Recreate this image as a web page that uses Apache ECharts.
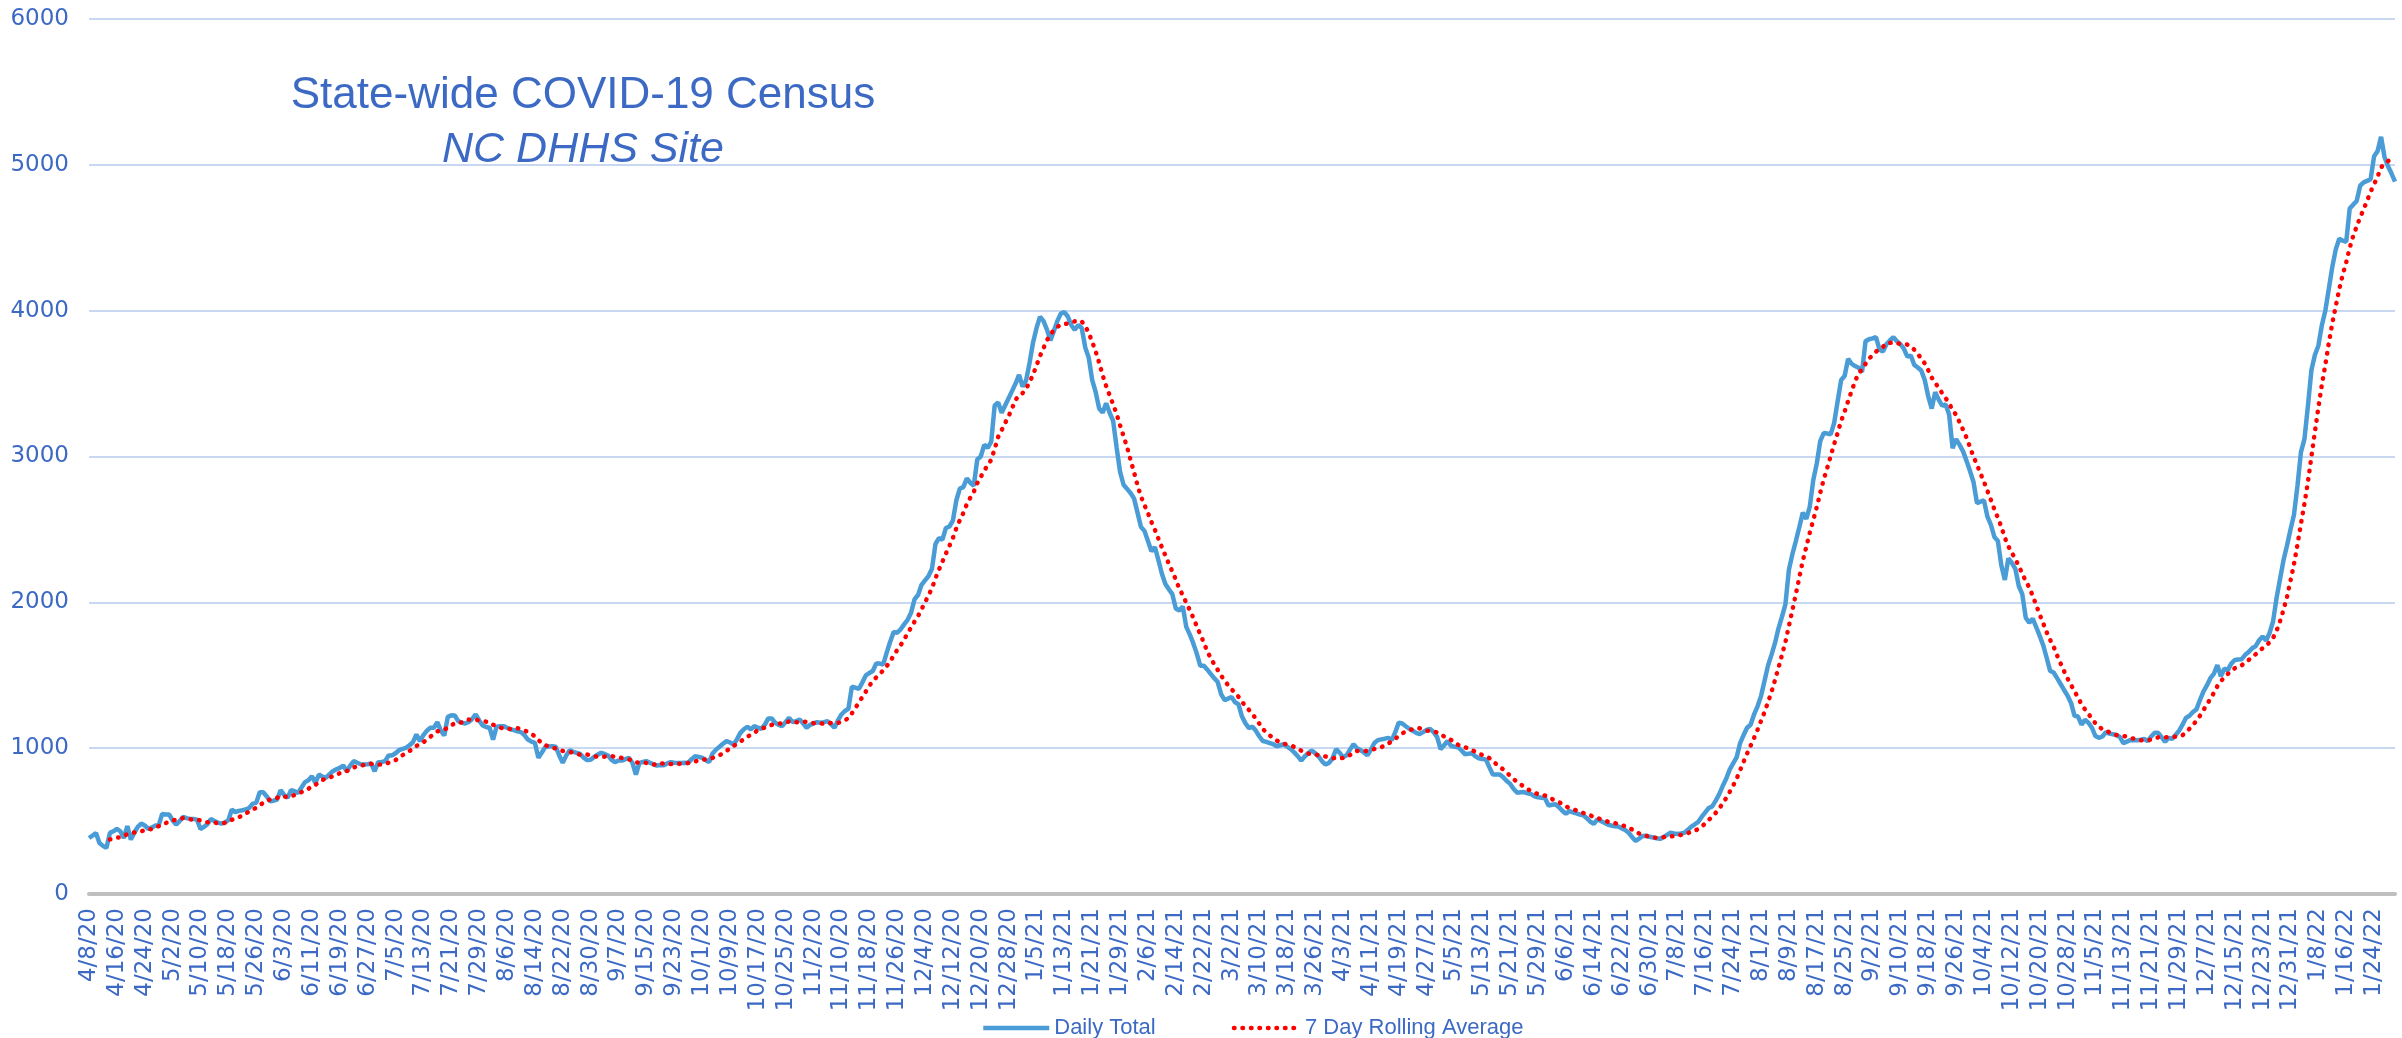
<!DOCTYPE html>
<html>
<head>
<meta charset="utf-8">
<title>State-wide COVID-19 Census</title>
<script src="https://cdn.jsdelivr.net/npm/echarts@6/dist/echarts.min.js"></script>
<style>
  html, body { margin: 0; padding: 0; background: #fff; }
  #chart { width: 2402px; height: 1038px; }
</style>
</head>
<body>
<div id="chart"></div>
<script>
// daily hospital census, 4/8/20 .. 12/31/20
const totals2020 = [
  384, 400, 419, 350, 330, 316, 419, 430,
  446, 430, 384, 465, 373, 420, 460, 483,
  470, 446, 455, 469, 470, 549, 545, 545,
  505, 476, 500, 529, 520, 515, 515, 510,
  446, 460, 480, 515, 500, 490, 483, 490,
  506, 579, 561, 570, 574, 580, 590, 620,
  625, 698, 698, 670, 636, 640, 648, 712,
  680, 659, 712, 705, 693, 730, 767, 780,
  808, 762, 819, 805, 796, 820, 842, 855,
  865, 881, 842, 880, 911, 900, 890, 888,
  890, 895, 842, 904, 905, 911, 950, 950,
  965, 986, 995, 1002, 1020, 1041, 1094, 1048,
  1090, 1120, 1140, 1140, 1178, 1120, 1087, 1215,
  1225, 1224, 1185, 1175, 1169, 1180, 1200, 1231,
  1190, 1156, 1145, 1140, 1059, 1147, 1150, 1151,
  1140, 1130, 1124, 1115, 1110, 1090, 1059, 1045,
  1037, 934, 970, 1009, 1012, 1014, 1010, 950,
  899, 950, 986, 975, 968, 960, 935, 918,
  920, 940, 955, 968, 960, 950, 920, 904,
  915, 915, 925, 934, 900, 819, 899, 905,
  911, 900, 890, 881, 885, 883, 895, 904,
  900, 898, 899, 900, 899, 925, 945, 940,
  934, 920, 904, 963, 990, 1010, 1030, 1048,
  1040, 1025, 1060, 1105, 1130, 1147, 1129, 1151,
  1140, 1133, 1160, 1204, 1204, 1174, 1160, 1151,
  1180, 1208, 1178, 1185, 1197, 1170, 1140, 1160,
  1170, 1178, 1175, 1178, 1185, 1165, 1140, 1190,
  1231, 1255, 1270, 1421, 1415, 1407, 1450, 1499,
  1515, 1529, 1581, 1580, 1574, 1655, 1730, 1796,
  1792, 1815, 1849, 1880, 1929, 2021, 2050, 2120,
  2150, 2180, 2230, 2400, 2440, 2430, 2510, 2520,
  2560, 2700, 2780, 2790, 2850, 2820, 2800, 2980,
  3000, 3080, 3060, 3100, 3350, 3370, 3300, 3350,
  3400, 3450, 3500, 3560
]
// 1/1/21 .. 12/31/21
const totals2021 = [
  3480, 3520, 3640, 3780,
  3880, 3958, 3930, 3870, 3796, 3860, 3930, 3980,
  3990, 3960, 3900, 3869, 3902, 3880, 3748, 3678,
  3524, 3441, 3329, 3301, 3365, 3300, 3245, 3063,
  2895, 2806, 2778, 2750, 2713, 2615, 2517, 2490,
  2420, 2350, 2378, 2290, 2196, 2126, 2090, 2056,
  1958, 1944, 1972, 1832, 1780, 1720, 1650, 1566,
  1566, 1540, 1510, 1480, 1455, 1371, 1329, 1340,
  1351, 1315, 1301, 1217, 1170, 1138, 1147, 1119,
  1080, 1049, 1043, 1035, 1027, 1013, 1020, 1027,
  1010, 993, 971, 945, 915, 943, 965, 985,
  965, 943, 910, 887, 900, 930, 993, 970,
  937, 951, 990, 1027, 1000, 987, 970, 951,
  990, 1035, 1055, 1060, 1065, 1071, 1055, 1110,
  1175, 1169, 1150, 1133, 1120, 1105, 1097, 1110,
  1125, 1133, 1110, 1077, 993, 1020, 1049, 1015,
  1010, 1007, 985, 959, 962, 965, 945, 931,
  925, 923, 870, 820, 820, 820, 800, 775,
  755, 720, 694, 697, 699, 690, 685, 670,
  663, 660, 657, 607, 612, 615, 595, 570,
  551, 568, 560, 553, 545, 540, 520, 495,
  481, 512, 500, 488, 476, 470, 465, 463,
  450, 439, 420, 390, 364, 380, 398, 400,
  392, 388, 382, 378, 390, 405, 420, 415,
  411, 415, 420, 440, 462, 478, 495, 530,
  560, 590, 601, 640, 685, 740, 790, 853,
  895, 937, 1035, 1090, 1140, 1161, 1231, 1287,
  1357, 1460, 1566, 1640, 1720, 1820, 1900, 1986,
  2224, 2330, 2420, 2517, 2615, 2573, 2657, 2839,
  2951, 3105, 3161, 3158, 3152, 3230, 3380, 3524,
  3552, 3669, 3636, 3620, 3608, 3580, 3790, 3804,
  3810, 3818, 3734, 3720, 3770, 3796, 3818, 3790,
  3770, 3740, 3685, 3692, 3628, 3610, 3590, 3524,
  3413, 3329, 3441, 3390, 3348, 3357, 3287, 3057,
  3119, 3080, 3035, 2970, 2900, 2825, 2680, 2690,
  2699, 2587, 2531, 2448, 2420, 2252, 2154, 2302,
  2270, 2230, 2112, 2056, 1894, 1860, 1888, 1830,
  1770, 1706, 1620, 1530, 1519, 1480, 1440, 1399,
  1360, 1310, 1222, 1217, 1161, 1194, 1175, 1140,
  1083, 1071, 1080, 1110, 1100, 1095, 1090, 1077,
  1035, 1045, 1055, 1055, 1055, 1058, 1063, 1049,
  1080, 1105, 1105, 1075, 1043, 1071, 1063, 1090,
  1119, 1161, 1208, 1222, 1248, 1266, 1330, 1388,
  1430, 1480, 1510, 1570, 1493, 1545, 1535, 1580,
  1605, 1608, 1610, 1640, 1660, 1685, 1700, 1740,
  1766, 1738, 1790, 1870, 2030, 2160, 2290, 2390,
  2500
]
// 1/1/22 .. 1/30/22
const totals2022 = [
  2600, 2800, 3030, 3119, 3346, 3591, 3696,
  3760, 3900, 4000, 4150, 4300, 4420, 4493, 4480,
  4472, 4700, 4727, 4752, 4857, 4880, 4890, 4902,
  5059, 5094, 5192, 5052, 4990, 4940, 4885
]
const yTicks = [0, 1000, 2000, 3000, 4000, 5000, 6000]

const dailyTotal = totals2020.concat(totals2021, totals2022)

// category labels m/d/yy, one per day from 4/8/20
const dates = dailyTotal.map((v, i) => {
  const d = new Date(2020, 3, 8 + i)
  return (d.getMonth() + 1) + '/' + d.getDate() + '/' + String(d.getFullYear()).slice(2)
})

// trailing 7 day mean, like the excel moving average trendline
const rollingAvg = dailyTotal.map((v, i) => {
  if (i < 6) return '-'
  let sum = 0
  for (let k = i - 6; k <= i; k++) sum += dailyTotal[k]
  return Math.round(sum / 7)
})

const textBlue = '#3B69C4'
const dailyStyle = { color: '#4A9CD6', width: 4.5 }
const avgStyle = { color: '#FF0000', width: 4.5, type: [0.5, 8], cap: 'round' }

const chart = echarts.init(document.getElementById('chart'))
chart.setOption({
  animation: false,
  backgroundColor: '#fff',
  grid: {
    left: 89,
    right: 7,
    top: 19,
    bottom: 144,
  },
  graphic: [
    {
      type: 'text',
      x: 583,
      y: 96,
      style: {
        text: 'State-wide COVID-19 Census',
        fill: textBlue,
        fontSize: 44,
        fontFamily: 'Liberation Sans',
        align: 'center',
        verticalAlign: 'middle',
      },
    },
    {
      type: 'text',
      x: 583,
      y: 150,
      style: {
        text: 'NC DHHS Site',
        fill: textBlue,
        fontSize: 43,
        fontStyle: 'italic',
        fontFamily: 'Liberation Sans',
        align: 'center',
        verticalAlign: 'middle',
      },
    },
  ],
  legend: {
    left: 976,
    top: 1012,
    itemWidth: 66,
    itemHeight: 14,
    itemGap: 76,
    itemStyle: { opacity: 0 },
    textStyle: {
      color: textBlue,
      fontSize: 22,
      fontFamily: 'Liberation Sans',
    },
    data: [
      { name: 'Daily Total', lineStyle: dailyStyle },
      { name: '7 Day Rolling Average', lineStyle: avgStyle },
    ],
  },
  xAxis: {
    type: 'category',
    data: dates,
    boundaryGap: false,
    axisLine: {
      lineStyle: { color: '#BFBFBF', width: 4 },
    },
    axisTick: { show: false },
    axisLabel: {
      interval: 7,
      rotate: 90,
      color: textBlue,
      fontSize: 23,
      fontFamily: 'DejaVu Sans',
      margin: 14,
    },
  },
  yAxis: {
    type: 'value',
    min: yTicks[0],
    max: yTicks[yTicks.length - 1],
    interval: 1000,
    axisLine: { show: false },
    axisTick: { show: false },
    axisLabel: {
      color: textBlue,
      fontSize: 23,
      fontFamily: 'DejaVu Sans',
      margin: 20,
      formatter: (v) => String(v),
    },
    splitLine: {
      lineStyle: { color: '#C9D8F1', width: 2 },
    },
  },
  series: [
    {
      name: 'Daily Total',
      type: 'line',
      data: dailyTotal,
      symbol: 'none',
      itemStyle: { color: '#4A9CD6' },
      lineStyle: dailyStyle,
    },
    {
      name: '7 Day Rolling Average',
      type: 'line',
      data: rollingAvg,
      symbol: 'none',
      z: 3,
      itemStyle: { color: '#FF0000' },
      lineStyle: avgStyle,
    },
  ],
})
</script>
</body>
</html>
